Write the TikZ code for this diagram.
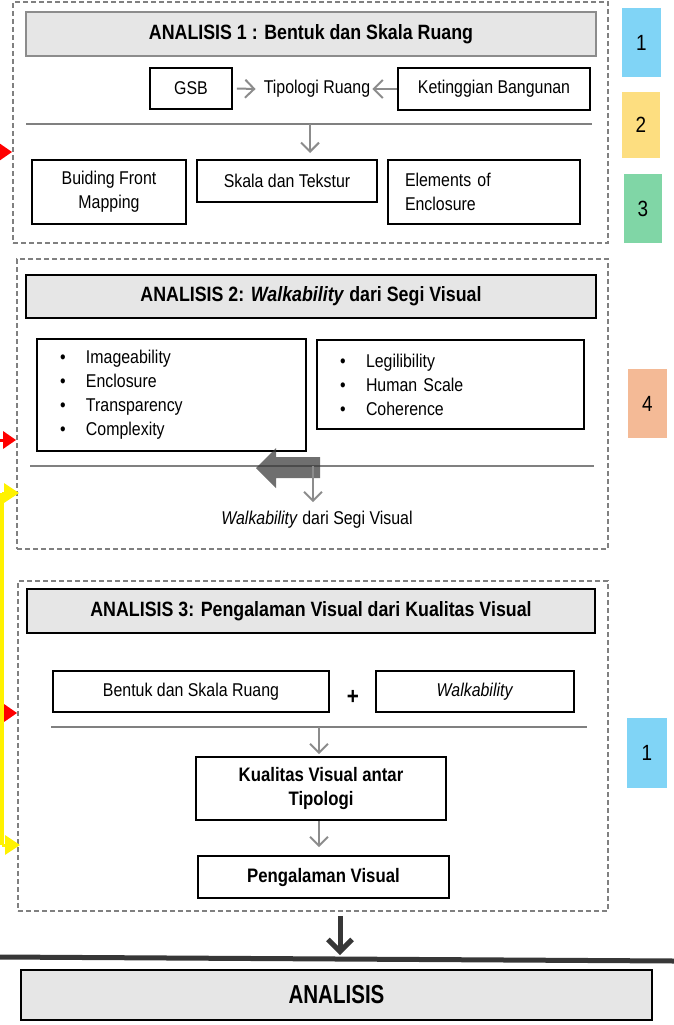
\documentclass[tikz,border=0pt]{standalone}
\usepackage{fontspec}
\setmainfont{Liberation Sans}[FakeStretch=0.86]
\newfontfamily\narrowfam{Liberation Sans}[FakeStretch=0.79]
\usetikzlibrary{arrows.meta}
\definecolor{tagblue}{RGB}{128,212,246}
\definecolor{tagyellow}{RGB}{253,222,128}
\definecolor{taggreen}{RGB}{128,214,166}
\definecolor{tagpeach}{RGB}{244,186,150}
\definecolor{titlegray}{RGB}{230,230,230}
\definecolor{dashgray}{RGB}{128,128,128}
\definecolor{linegray}{RGB}{128,128,128}
\definecolor{arrowgray}{RGB}{140,140,140}
\definecolor{darkarrow}{RGB}{55,55,55}
\newcommand{\bodyf}{\fontsize{18.5}{24}\selectfont}
\newcommand{\titlef}{\fontsize{20.7}{24}\selectfont\bfseries}
\newcommand{\boldf}{\fontsize{19.5}{24}\selectfont\bfseries}
\newcommand{\tagf}{\fontsize{22}{24}\selectfont}
\newcommand{\bul}[1]{\makebox[26pt][l]{\textbullet}#1}
\begin{document}
\begin{tikzpicture}[x=1pt,y=-1pt,
 cont/.style={draw=dashgray, line width=1.8pt, dash pattern=on 5pt off 3pt, inner sep=0pt},
 titlebox/.style={draw=black, fill=titlegray, line width=1.6pt, font=\titlef, inner sep=0pt},
 box/.style={draw=black, line width=1.6pt, font=\bodyf, inner sep=0pt, align=center},
 tag/.style={inner sep=0pt, font=\tagf},
 gline/.style={draw=linegray, line width=2.2pt},
 garrow/.style={draw=arrowgray, line width=2pt, -{Straight Barb[length=9pt,width=18pt]}},
 redarr/.style={draw=red, line width=3pt, -{Triangle[length=13pt,width=17pt]}},
 yelarr/.style={draw=yellow, line width=3pt, -{Triangle[length=15pt,width=19pt]}},
 bigarrow/.style={draw=darkarrow, line width=5pt, -{Straight Barb[length=12pt,width=24pt]}}
]
\useasboundingbox (0,0) rectangle (674,1025);

% ---------- side tags ----------
\node[tag, fill=tagblue, minimum width=39pt, minimum height=69pt] (t1) at (641.5,42.5) {1};
\node[tag, fill=tagyellow, minimum width=38pt, minimum height=66pt] (t2) at (641,125) {2};
\node[tag, fill=taggreen, minimum width=38pt, minimum height=69pt] (t3) at (643,208.5) {3};
\node[tag, fill=tagpeach, minimum width=39pt, minimum height=69pt] (t4) at (647.5,403.5) {4};
\node[tag, fill=tagblue, minimum width=40pt, minimum height=70pt] (t5) at (647,753) {1};

% ---------- containers ----------
\node[cont, minimum width=595pt, minimum height=241pt] (d1) at (310.5,122.5) {};
\node[cont, minimum width=591pt, minimum height=290pt] (d2) at (312.5,404) {};
\node[cont, minimum width=590pt, minimum height=330pt] (d3) at (313,746) {};

% ---------- ANALISIS 1 ----------
\node[titlebox, draw=arrowgray, minimum width=570pt, minimum height=44pt] (h1) at (311,34) {ANALISIS 1 : Bentuk dan Skala Ruang};
\node[box, minimum width=82pt, minimum height=41pt] (gsb) at (191,88.5) {GSB};
\node[font=\bodyf, inner sep=0pt] (tip) at (317,89) {Tipologi Ruang};
\node[box, minimum width=192pt, minimum height=42pt] (ket) at (494,89) {Ketinggian Bangunan};
\draw[garrow] ([xshift=4pt]gsb.east) -- ([xshift=-8pt]tip.west);
\draw[garrow] (ket.west) -- ([xshift=2pt]tip.east);
\coordinate (l1a) at (26,124);
\coordinate (l1b) at (592,124);
\draw[gline] (l1a) -- (l1b);
\node[box, minimum width=154pt, minimum height=64pt] (bfm) at (109,192) {Buiding Front\\Mapping};
\node[box, minimum width=180pt, minimum height=42pt] (skala) at (287,181) {Skala dan Tekstur};
\node[box, minimum width=192pt, minimum height=64pt, text width=158pt, align=left] (eoe) at (484,192) {Elements of\\Enclosure};
\coordinate (a1s) at (310,124);
\coordinate (a1e) at (310,153);
\draw[garrow] (a1s) -- (a1e);

% ---------- ANALISIS 2 ----------
\node[titlebox, minimum width=570pt, minimum height=43pt] (h2) at (311,296.5) {ANALISIS 2: \textit{Walkability} dari Segi Visual};
\node[box, minimum width=269pt, minimum height=112pt, text width=223pt, align=left] (lista) at (171.5,395)
 {\bul{Imageability}\\\bul{Enclosure}\\\bul{Transparency}\\\bul{Complexity}};
\node[box, minimum width=267pt, minimum height=89pt, text width=221pt, align=left] (listb) at (450.5,384.5)
 {\bul{Legilibility}\\\bul{Human Scale}\\\bul{Coherence}};
\coordinate (l2a) at (30,466);
\coordinate (l2b) at (594,466);
\draw[gline] (l2a) -- (l2b);
\fill[darkarrow, opacity=0.72] (320,457) -- (276,457) -- (276,448) -- (256,468) -- (276,488) -- (276,478) -- (320,478) -- cycle;
\coordinate (a2s) at (313,466);
\node[font=\bodyf, inner sep=0pt] (wsv) at (317,520) {\textit{Walkability} dari Segi Visual};
\draw[garrow] (a2s) -- ([yshift=9pt]wsv.north -| a2s);

% ---------- ANALISIS 3 ----------
\node[titlebox, minimum width=568pt, minimum height=44pt] (h3) at (311,611) {ANALISIS 3: Pengalaman Visual dari Kualitas Visual};
\node[box, minimum width=276pt, minimum height=41pt] (bsr) at (191,691.5) {Bentuk dan Skala Ruang};
\node[font=\fontsize{24}{24}\selectfont\bfseries, inner sep=0pt] (plus) at (353,697) {+};
\node[box, minimum width=198pt, minimum height=41pt] (walk) at (475,691.5) {\textit{Walkability}};
\coordinate (l3a) at (51,727);
\coordinate (l3b) at (587,727);
\draw[gline] (l3a) -- (l3b);
\node[box, font=\boldf, minimum width=250pt, minimum height=63pt] (kual) at (321,788.5) {Kualitas Visual antar\\Tipologi};
\node[box, font=\boldf, minimum width=251pt, minimum height=42pt] (peng) at (323.5,877) {Pengalaman Visual};
\coordinate (a3s) at (319,727);
\draw[garrow] (a3s) -- ([yshift=2pt]kual.north -| a3s);
\draw[garrow] (kual.south -| a3s) -- ([yshift=8pt]peng.north -| a3s);

% ---------- bottom ----------
\coordinate (bl) at (0,957);
\coordinate (br) at (674,961);
\draw[draw=darkarrow, line width=5pt] (bl) -- (br);
\coordinate (bae) at (340,955);
\draw[bigarrow] (d3.south -| bae) ++(0,4) -- (bae);
\node[titlebox, font=\narrowfam\fontsize{26}{26}\selectfont\bfseries, minimum width=631pt, minimum height=50pt] (ana) at (336.5,995) {ANALISIS};

% ---------- side arrows ----------
\coordinate (r1) at (0,152);
\coordinate (r2) at (0,440);
\coordinate (r3) at (0,713);
\coordinate (y1) at (2,493);
\coordinate (y2) at (2,845);
\draw[redarr] (r1) -- (r1 -| d1.west);
\draw[redarr] (r2) -- (r2 -| d2.west);
\draw[redarr] (r3) -- (r3 -| d3.west);
\draw[draw=yellow, line width=4pt] (y1) -- (y2);
\draw[yelarr] (y1) -- ([xshift=3pt]y1 -| d2.west);
\draw[yelarr] (y2) -- ([xshift=3pt]y2 -| d3.west);
\end{tikzpicture}
\end{document}
